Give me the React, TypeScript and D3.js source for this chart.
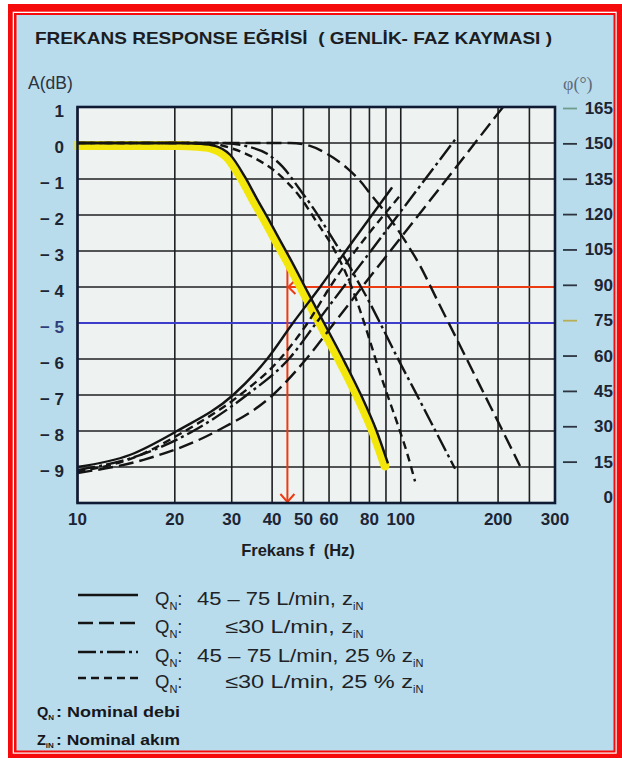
import React, { useEffect, useRef } from 'react';
import * as d3 from 'd3';

// frequency grid and labels (Hz)
const freqGrid = [10, 20, 30, 40, 50, 60, 70, 80, 90, 100, 150, 200, 250, 300];
const freqLabels = [10, 20, 30, 40, 50, 60, 80, 100, 200, 300];
const dbTicks = [1, 0, -1, -2, -3, -4, -5, -6, -7, -8, -9];
const phaseTicks = [165, 150, 135, 120, 105, 90, 75, 60, 45, 30, 15, 0];

// amplitude curves [Hz, dB]
const ampSolid = [[10, 0], [21, 0], [23.9, -0.02], [26.6, -0.08], [28, -0.16], [29.6, -0.32], [33, -0.95], [35.9, -1.55], [38.9, -2.1], [42, -2.65], [45.4, -3.2], [51.6, -4.15], [58.3, -5.05], [67.2, -6.1], [75.8, -7.05], [83.8, -7.95], [91.3, -8.9]];
const ampLongDash = [[10, 0], [45.4, 0], [52.4, -0.08], [59.1, -0.3], [68.2, -0.7], [74.8, -1.05], [80.3, -1.4], [92.6, -2.1], [104.5, -2.8], [114.6, -3.4], [123.1, -3.95], [129.4, -4.35], [147.2, -5.35], [175.8, -6.74], [207.2, -8.02], [233.8, -8.97]];
const ampDashDot = [[10, 0], [28, 0], [33, -0.08], [38.6, -0.3], [43, -0.65], [48.8, -1.3], [54, -1.85], [59.1, -2.4], [64, -2.9], [68.2, -3.3], [73.2, -3.8], [79.2, -4.35], [86.3, -5.0], [99.4, -6.1], [110.7, -6.9], [123.1, -7.7], [147.2, -9.05]];
const ampShortDash = [[10, 0], [25, 0], [30, -0.15], [35, -0.4], [42.3, -0.9], [48.8, -1.5], [55, -2.2], [61.7, -2.9], [67.5, -3.6], [73.2, -4.4], [80.3, -5.5], [86.3, -6.4], [92.6, -7.2], [99.4, -8.0], [104.5, -8.6], [110.7, -9.4]];

// phase curves [Hz, deg]
const phaseSolid = [[10, 15], [14.5, 20], [20.3, 30], [30.3, 45], [38.6, 60], [46.4, 75], [56.3, 90], [69.7, 107.5], [94, 131.5]];
const phaseDashDot = [[10, 13.8], [14.5, 18.5], [22.8, 30], [33.4, 45], [45.4, 60.5], [55.1, 75.5], [66.5, 90], [99.4, 121], [149.3, 152.5]];
const phaseLongDash = [[10, 12.5], [16, 18], [27, 30], [40.2, 45], [51.3, 60.4], [62.6, 75.4], [75.9, 90], [123.1, 126], [207.2, 165]];
const phaseShortDash = [[10, 13], [15, 19], [21.5, 30], [31.8, 45], [42.3, 60], [51.5, 75], [60.4, 90], [99.4, 128]];

// marker lines
const cutoffHz = 44.6;
const cutoffDb = -3;
const markerPhase = 90;
const blueDb = -5;

const legendRows = [
  { dash: null, text: '45 – 75 L/min, z', x: 197, len: 156 },
  { dash: '15,6', text: '≤30 L/min, z', x: 225, len: 128 },
  { dash: '18,4,3,4', text: '45 – 75 L/min, 25 % z', x: 197, len: 216 },
  { dash: '8,5', text: '≤30 L/min, 25 % z', x: 225, len: 188 },
];

const FONT = '"Liberation Sans", Arial, sans-serif';
const INK = '#1b1d22';

const App = () => {
  const ref = useRef(null);

  useEffect(() => {
    const svg = d3.select(ref.current);
    svg.selectAll('*').remove();

    // frame
    svg.append('rect').attr('width', 622).attr('height', 758).attr('fill', '#fff');
    svg.append('rect').attr('x', 8).attr('y', 4).attr('width', 614).attr('height', 754).attr('fill', '#f50b0b');
    svg.append('rect').attr('x', 12.7).attr('y', 11.7).attr('width', 604).attr('height', 742).attr('fill', '#fff');
    svg.append('rect').attr('x', 14).attr('y', 13).attr('width', 601.5).attr('height', 739.5).attr('fill', '#f50b0b');
    svg.append('rect').attr('x', 16.5).attr('y', 15).attr('width', 597).attr('height', 735.5).attr('fill', '#b9dcec');

    svg.append('text')
      .attr('x', 35).attr('y', 44)
      .attr('font-family', FONT).attr('font-weight', 'bold').attr('font-size', 17)
      .attr('fill', INK)
      .attr('textLength', 517).attr('lengthAdjust', 'spacingAndGlyphs')
      .style('white-space', 'pre')
      .text('FREKANS RESPONSE EĞRİSİ  ( GENLİK- FAZ KAYMASI )');

    const x = d3.scaleLog().domain([10, 300]).range([77.5, 555]);
    const y = d3.scaleLinear().domain([-10, 1]).range([503, 107]);
    const yPh = d3.scaleLinear().domain([0, 165]).range([503, 107]);
    const yPhLbl = d3.scaleLinear().domain([0, 165]).range([497.5, 108.5]);

    const [x0, x1] = x.range();
    const [y0, y1] = [y(1), y(-10)];

    svg.append('defs').append('clipPath').attr('id', 'plotClip')
      .append('rect').attr('x', x0).attr('y', y0).attr('width', x1 - x0).attr('height', y1 - y0);

    svg.append('rect')
      .attr('x', x0).attr('y', y0).attr('width', x1 - x0).attr('height', y1 - y0)
      .attr('fill', '#eef3f1');

    const grid = svg.append('g').attr('stroke', '#1e1f22').attr('stroke-width', 1.6);
    grid.selectAll('.vg').data(freqGrid).enter().append('line')
      .attr('x1', d => x(d)).attr('x2', d => x(d)).attr('y1', y0).attr('y2', y1);
    grid.selectAll('.hg').data(dbTicks.filter(d => d < 1)).enter().append('line')
      .attr('x1', x0).attr('x2', x1).attr('y1', d => y(d)).attr('y2', d => y(d));

    // blue -5 dB line
    svg.append('line')
      .attr('x1', x0).attr('x2', x1).attr('y1', y(blueDb)).attr('y2', y(blueDb))
      .attr('stroke', '#3d3ccb').attr('stroke-width', 2);

    // red marker lines
    const red = '#ec3a12';
    const cx = x(cutoffHz);
    svg.append('line')
      .attr('x1', cx).attr('x2', cx).attr('y1', y(cutoffDb)).attr('y2', y1 - 1)
      .attr('stroke', red).attr('stroke-width', 2);
    svg.append('path')
      .attr('d', `M${cx - 7},${y1 - 9} L${cx},${y1 - 1} L${cx + 7},${y1 - 9}`)
      .attr('fill', 'none').attr('stroke', red).attr('stroke-width', 2);
    svg.append('line')
      .attr('x1', cx).attr('x2', x1).attr('y1', yPh(markerPhase)).attr('y2', yPh(markerPhase))
      .attr('stroke', red).attr('stroke-width', 2.2);
    svg.append('path')
      .attr('d', `M${cx + 8},${yPh(markerPhase) - 7} L${cx + 1},${yPh(markerPhase)} L${cx + 8},${yPh(markerPhase) + 7}`)
      .attr('fill', 'none').attr('stroke', red).attr('stroke-width', 2);

    const ampLine = d3.line().x(d => x(d[0])).y(d => y(d[1])).curve(d3.curveMonotoneX);
    const phLine = d3.line().x(d => x(d[0])).y(d => yPh(d[1])).curve(d3.curveMonotoneX);

    // yellow highlight under solid amplitude curve
    svg.append('path')
      .attr('d', ampLine(ampSolid))
      .attr('clip-path', 'url(#plotClip)')
      .attr('transform', 'translate(-3,2.5)')
      .attr('fill', 'none').attr('stroke', '#f3e60a').attr('stroke-width', 9)
      .attr('stroke-linecap', 'round').attr('stroke-linejoin', 'round');

    const curves = [
      { data: ampSolid, gen: ampLine, dash: null },
      { data: ampLongDash, gen: ampLine, dash: '15,6' },
      { data: ampDashDot, gen: ampLine, dash: '18,4,3,4' },
      { data: ampShortDash, gen: ampLine, dash: '8,5' },
      { data: phaseSolid, gen: phLine, dash: null },
      { data: phaseDashDot, gen: phLine, dash: '18,4,3,4' },
      { data: phaseLongDash, gen: phLine, dash: '15,6' },
      { data: phaseShortDash, gen: phLine, dash: '8,5' },
    ];
    svg.append('g').selectAll('path').data(curves).enter().append('path')
      .attr('d', d => d.gen(d.data))
      .attr('fill', 'none').attr('stroke', '#141414').attr('stroke-width', 2.4)
      .attr('stroke-dasharray', d => d.dash)
      .attr('stroke-linejoin', 'round');

    // plot border
    svg.append('rect')
      .attr('x', x0).attr('y', y0).attr('width', x1 - x0).attr('height', y1 - y0)
      .attr('fill', 'none').attr('stroke', '#0f1a33').attr('stroke-width', 2.6);

    // left axis
    svg.append('text').attr('x', 28).attr('y', 89)
      .attr('font-family', FONT).attr('font-size', 17.5).attr('fill', '#2a3340')
      .text('A(dB)');
    svg.append('g').selectAll('text').data(dbTicks).enter().append('text')
      .attr('x', 64).attr('y', d => y(d) + 4)
      .attr('dominant-baseline', 'central')
      .attr('text-anchor', 'end')
      .attr('font-family', FONT).attr('font-weight', 'bold').attr('font-size', 17)
      .attr('fill', d => (d === blueDb ? '#2e3f7a' : '#1c2533'))
      .style('white-space', 'pre')
      .text(d => (d < 0 ? `\u2212 ${-d}` : `${d}`));

    // right axis
    svg.append('text').attr('x', 563).attr('y', 90)
      .attr('font-family', '"Liberation Serif", serif').attr('font-size', 18).attr('fill', '#5d6b7a')
      .text('φ(°)');
    const rt = svg.append('g');
    rt.selectAll('line').data(phaseTicks.filter(d => d > 0)).enter().append('line')
      .attr('x1', 563).attr('x2', 577)
      .attr('y1', d => yPhLbl(d)).attr('y2', d => yPhLbl(d))
      .attr('stroke', d => (d === 165 ? '#6f9c8c' : d === 75 ? '#b8ae55' : '#2c3440'))
      .attr('stroke-width', 1.8);
    rt.selectAll('text').data(phaseTicks).enter().append('text')
      .attr('x', 613).attr('y', d => yPhLbl(d))
      .attr('dominant-baseline', 'central').attr('text-anchor', 'end')
      .attr('font-family', FONT).attr('font-weight', 'bold').attr('font-size', 17)
      .attr('fill', '#1c2533')
      .text(d => d);

    // bottom axis
    svg.append('g').selectAll('text').data(freqLabels).enter().append('text')
      .attr('x', d => x(d)).attr('y', 525)
      .attr('text-anchor', 'middle')
      .attr('font-family', FONT).attr('font-weight', 'bold').attr('font-size', 17)
      .attr('fill', '#1c2533')
      .text(d => d);
    svg.append('text').attr('x', 298).attr('y', 556)
      .attr('text-anchor', 'middle')
      .attr('font-family', FONT).attr('font-weight', 'bold').attr('font-size', 16.5)
      .attr('fill', INK)
      .style('white-space', 'pre')
      .text('Frekans f  (Hz)');

    // legend
    const rowY = [595, 623, 652, 678];
    const lg = svg.append('g');
    legendRows.forEach((r, i) => {
      const ly = rowY[i];
      lg.append('line').attr('x1', 78).attr('x2', 138).attr('y1', ly).attr('y2', ly)
        .attr('stroke', '#141414').attr('stroke-width', 2.4)
        .attr('stroke-dasharray', r.dash);
      const q = lg.append('text').attr('x', 155).attr('y', ly + 10)
        .attr('font-family', FONT).attr('font-size', 18.5).attr('fill', '#202226');
      q.append('tspan').text('Q');
      q.append('tspan').attr('font-size', 11).attr('dy', 5).text('N');
      q.append('tspan').attr('dy', -5).text(':');
      const t = lg.append('text').attr('x', r.x).attr('y', ly + 10)
        .attr('font-family', FONT).attr('font-size', 18.5).attr('fill', '#202226');
      t.append('tspan').attr('textLength', r.len).attr('lengthAdjust', 'spacingAndGlyphs').text(r.text);
      t.append('tspan').attr('font-size', 11).attr('dy', 5).text('iN');
    });

    // notes
    const notes = [
      { sym: 'Q', sub: 'N', text: ': Nominal debi', y: 717 },
      { sym: 'Z', sub: 'iN', text: ': Nominal akım', y: 745 },
    ];
    notes.forEach(n => {
      const t = svg.append('text').attr('x', 37).attr('y', n.y)
        .attr('font-family', FONT).attr('font-weight', 'bold').attr('font-size', 14.5)
        .attr('fill', '#15171c');
      t.append('tspan').text(n.sym);
      t.append('tspan').attr('font-size', 8).attr('dy', 3).text(n.sub);
      svg.append('text').attr('x', 56).attr('y', n.y)
        .attr('font-family', FONT).attr('font-weight', 'bold').attr('font-size', 14.5)
        .attr('fill', '#15171c')
        .attr('textLength', 124).attr('lengthAdjust', 'spacingAndGlyphs')
        .text(n.text);
    });
  }, []);

  return <svg ref={ref} width={622} height={758} style={{ position: 'absolute', left: 0, top: 0 }} />;
};

export default App;
